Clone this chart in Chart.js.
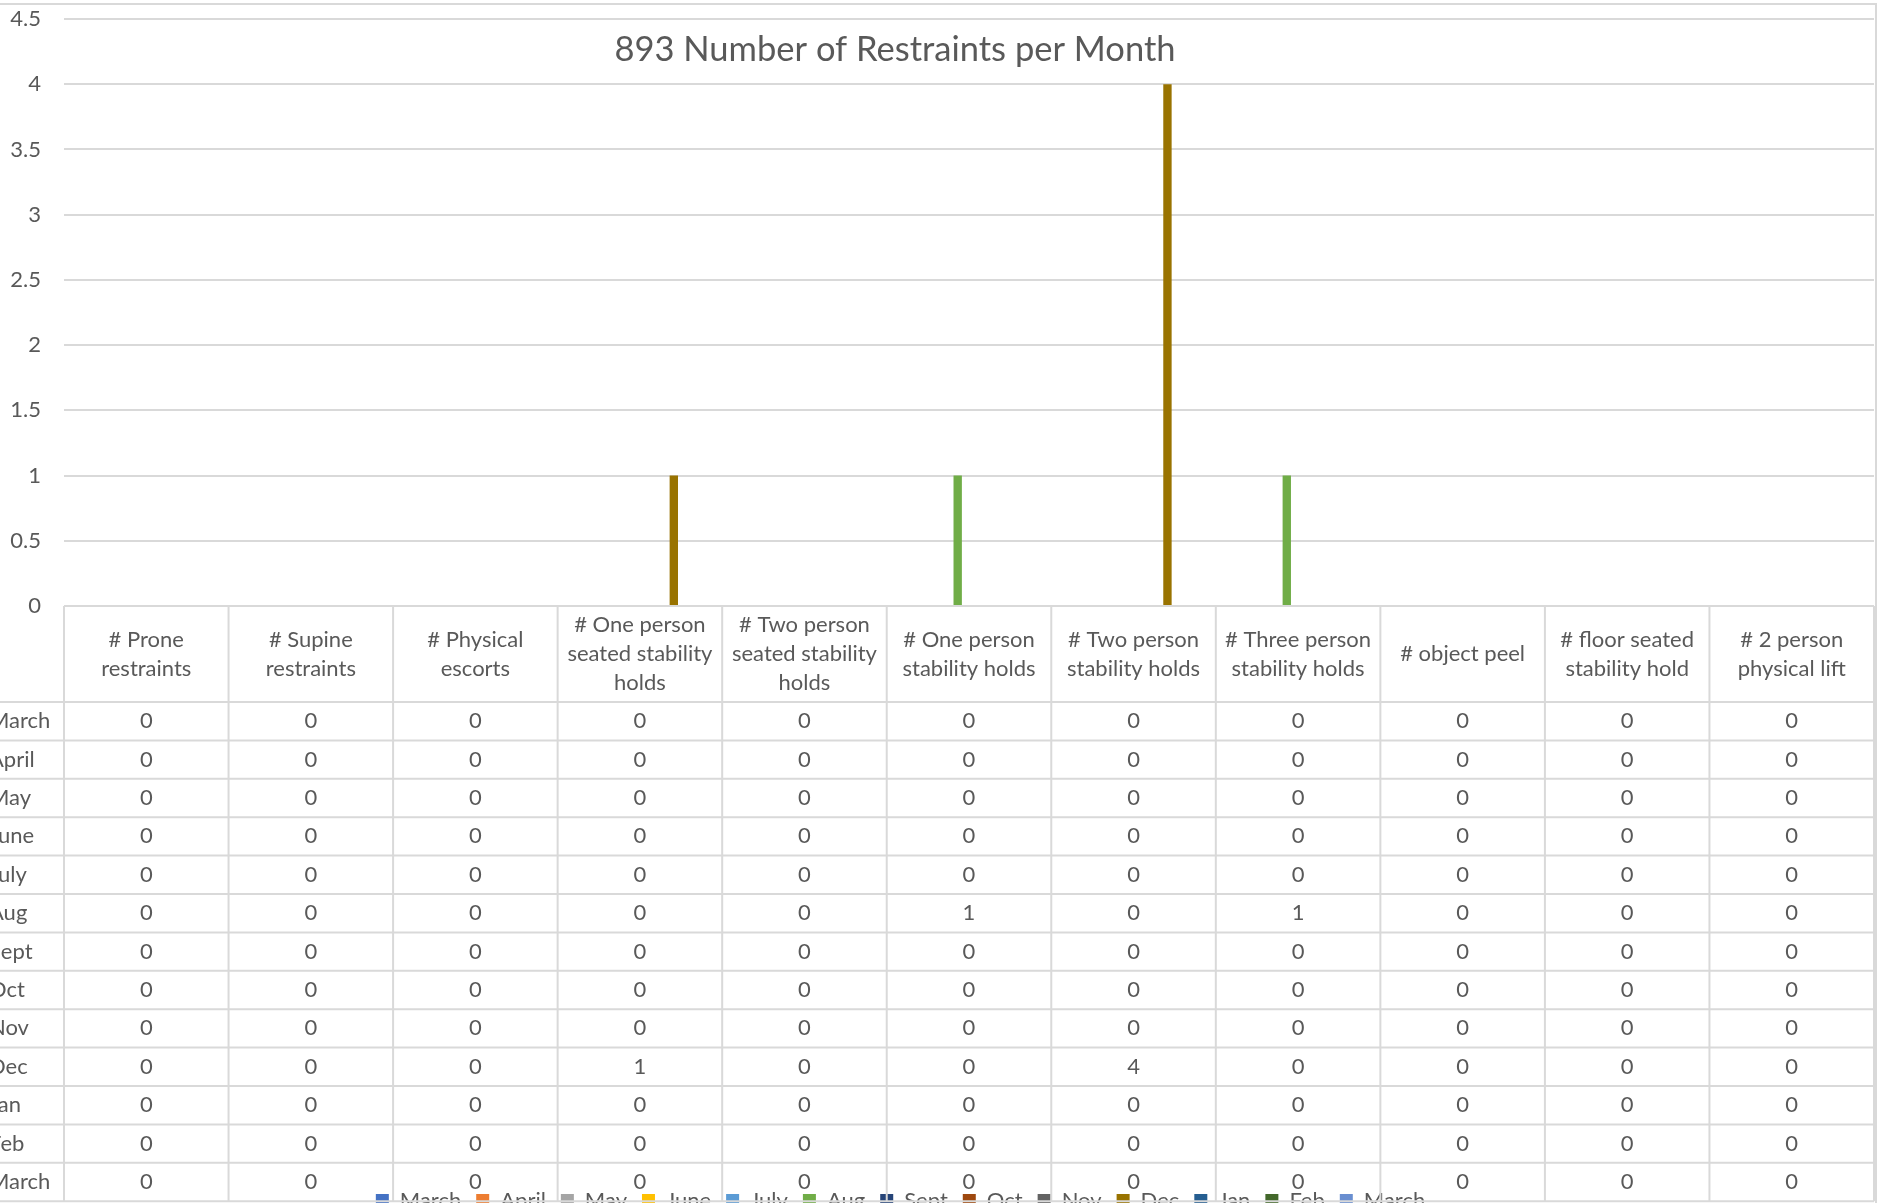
<!DOCTYPE html>
<html lang="en">
<head>
<meta charset="UTF-8">
<title>893 Number of Restraints per Month</title>
<script src="https://cdn.jsdelivr.net/npm/chart.js"></script>
<style>
  html, body { margin: 0; padding: 0; background: #fff; overflow: hidden; width: 1877px; height: 1203px; }
  #chart { position: absolute; left: -87px; top: 0; }
</style>
</head>
<body>
<canvas id="chart" width="1964" height="1230"></canvas>
<script>
// categories (table header, two or three lines each)
const categories = [
  ["# Prone", "restraints"],
  ["# Supine", "restraints"],
  ["# Physical", "escorts"],
  ["# One person", "seated stability", "holds"],
  ["# Two person", "seated stability", "holds"],
  ["# One person", "stability holds"],
  ["# Two person", "stability holds"],
  ["# Three person", "stability holds"],
  ["# object peel"],
  ["# floor seated", "stability hold"],
  ["# 2 person", "physical lift"]
];

const months = ["March", "April", "May", "June", "July", "Aug", "Sept", "Oct", "Nov", "Dec", "Jan", "Feb", "March"];
const monthColors = ["#4472C4", "#ED7D31", "#A5A5A5", "#FFC000", "#5B9BD5", "#70AD47", "#264478",
                     "#9E480E", "#636363", "#997300", "#255E91", "#43682B", "#698ED0"];

// one row per month
const marchVals  = [0, 0, 0, 0, 0, 0, 0, 0, 0, 0, 0];
const aprilVals  = [0, 0, 0, 0, 0, 0, 0, 0, 0, 0, 0];
const mayVals    = [0, 0, 0, 0, 0, 0, 0, 0, 0, 0, 0];
const juneVals   = [0, 0, 0, 0, 0, 0, 0, 0, 0, 0, 0];
const julyVals   = [0, 0, 0, 0, 0, 0, 0, 0, 0, 0, 0];
const augVals    = [0, 0, 0, 0, 0, 1, 0, 1, 0, 0, 0];
const septVals   = [0, 0, 0, 0, 0, 0, 0, 0, 0, 0, 0];
const octVals    = [0, 0, 0, 0, 0, 0, 0, 0, 0, 0, 0];
const novVals    = [0, 0, 0, 0, 0, 0, 0, 0, 0, 0, 0];
const decVals    = [0, 0, 0, 1, 0, 0, 4, 0, 0, 0, 0];
const janVals    = [0, 0, 0, 0, 0, 0, 0, 0, 0, 0, 0];
const febVals    = [0, 0, 0, 0, 0, 0, 0, 0, 0, 0, 0];
const march2Vals = [0, 0, 0, 0, 0, 0, 0, 0, 0, 0, 0];

const monthValues = [marchVals, aprilVals, mayVals, juneVals, julyVals, augVals, septVals,
                     octVals, novVals, decVals, janVals, febVals, march2Vals];

const TEXT = "#595959";
const LINE = "#d9d9d9";
const FONT = "Lato";
const HEADER_H = 96;
const ROW_H = 38.4;
const HEAD_LINE = 29;
const ROW_LABEL_X = 76;

// draws the data table under the plot, plus title and chart border
const tablePlugin = {
  id: 'dataTable',
  afterDatasetsDraw(chart) {
    const { ctx, chartArea, scales: { x } } = chart;
    const n = chart.data.labels.length;
    const colW = (x.right - x.left) / n;
    const top = chartArea.bottom;
    const headBottom = top + HEADER_H;
    const rows = chart.data.datasets.length;
    const bottom = headBottom + rows * ROW_H;

    ctx.save();
    ctx.strokeStyle = LINE;
    ctx.lineWidth = 2;
    ctx.beginPath();
    ctx.moveTo(x.left, top);
    ctx.lineTo(x.right, top);
    for (let r = 0; r <= rows; r++) {
      const y = headBottom + r * ROW_H;
      ctx.moveTo(0, y);
      ctx.lineTo(x.right, y);
    }
    for (let c = 0; c <= n; c++) {
      const xx = x.left + c * colW;
      ctx.moveTo(xx, top);
      ctx.lineTo(xx, bottom);
    }
    ctx.stroke();

    ctx.fillStyle = TEXT;
    ctx.font = "22px " + FONT;
    ctx.textBaseline = 'middle';
    ctx.textAlign = 'center';
    chart.data.labels.forEach((lab, c) => {
      const lines = Array.isArray(lab) ? lab : [lab];
      const cx = x.getPixelForValue(c);
      const cy = (top + headBottom) / 2;
      lines.forEach((ln, k) => ctx.fillText(ln, cx, cy + (k - (lines.length - 1) / 2) * HEAD_LINE));
    });

    chart.data.datasets.forEach((ds, r) => {
      const cy = headBottom + (r + 0.5) * ROW_H;
      ctx.textAlign = 'left';
      ctx.fillText(ds.label, ROW_LABEL_X, cy);
      ctx.textAlign = 'center';
      ds.data.forEach((v, c) => ctx.fillText(String(v), x.getPixelForValue(c), cy));
    });
    ctx.restore();
  },
  afterDraw(chart) {
    const { ctx } = chart;
    ctx.save();
    ctx.strokeStyle = LINE;
    ctx.lineWidth = 2;
    ctx.beginPath();
    ctx.moveTo(0, 4);
    ctx.lineTo(1963, 4);
    ctx.lineTo(1963, chart.height);
    ctx.stroke();

    ctx.fillStyle = TEXT;
    ctx.font = "34.5px " + FONT;
    ctx.textAlign = 'center';
    ctx.textBaseline = 'alphabetic';
    ctx.fillText("893 Number of Restraints per Month", chart.width / 2, 61);
    ctx.restore();
  }
};

const datasets = months.map((m, i) => ({
  label: m,
  data: monthValues[i],
  backgroundColor: monthColors[i],
  borderWidth: 0
}));

new Chart(document.getElementById('chart'), {
  type: 'bar',
  data: { labels: categories, datasets: datasets },
  options: {
    responsive: false,
    animation: false,
    categoryPercentage: 0.893,
    barPercentage: 0.74,
    layout: { padding: { left: 14, top: 19, right: 3, bottom: 8.5 } },
    plugins: {
      title: { display: false },
      tooltip: { enabled: false },
      legend: {
        position: 'bottom',
        z: 1,
        labels: {
          boxWidth: 13,
          boxHeight: 13,
          padding: 15,
          color: TEXT,
          font: { family: FONT, size: 22 }
        }
      }
    },
    scales: {
      x: {
        grid: { display: false },
        border: { display: false },
        ticks: { display: false },
        afterFit: (scale) => { scale.height = 568.5; }
      },
      y: {
        min: 0,
        max: 4.5,
        ticks: {
          stepSize: 0.5,
          padding: 0,
          color: TEXT,
          font: { family: FONT, size: 22 },
          callback: (v) => String(v)
        },
        grid: { color: LINE, lineWidth: 2, drawTicks: true, tickLength: 23, tickColor: 'rgba(0,0,0,0)' },
        border: { display: false },
        afterFit: (scale) => { scale.width = 137; }
      }
    }
  },
  plugins: [tablePlugin]
});
</script>
</body>
</html>
